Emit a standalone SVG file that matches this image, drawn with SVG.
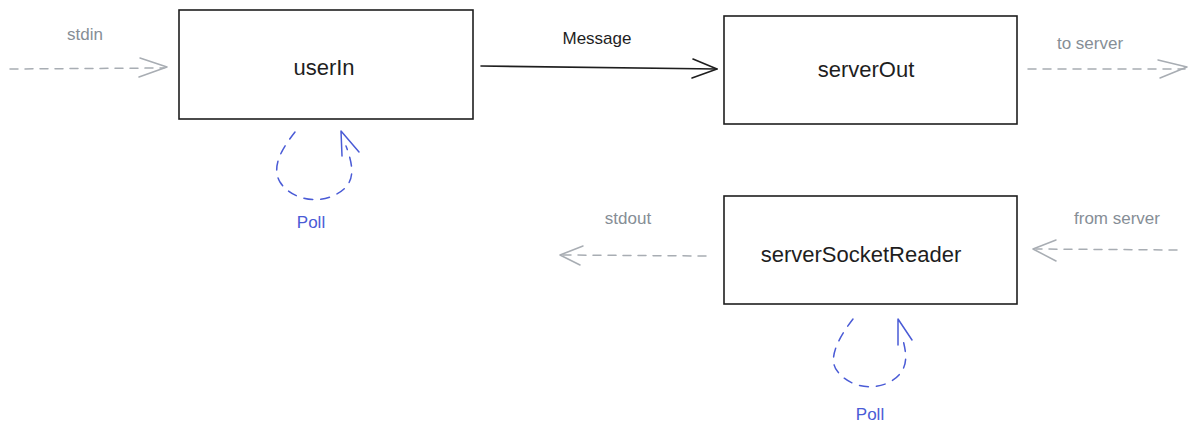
<svg xmlns="http://www.w3.org/2000/svg" width="1197" height="436" viewBox="0 0 1197 436">
<style>
.box{fill:#fff;stroke:#1e1e1e;stroke-width:1.6}
.lbl{font-family:"Liberation Sans",Arial,sans-serif;font-size:22px;fill:#1e1e1e;text-anchor:middle}
.note{font-family:"Liberation Sans",Arial,sans-serif;font-size:17px;fill:#868e96;text-anchor:middle}
.poll{font-family:"Liberation Sans",Arial,sans-serif;font-size:17px;fill:#4a5bd6;text-anchor:middle}
.gray{fill:none;stroke:#a8adb3;stroke-width:1.5;stroke-dasharray:8 7;stroke-linecap:round}
.grayhead{fill:none;stroke:#a8adb3;stroke-width:1.5;stroke-linecap:round;stroke-linejoin:round}
.blk{fill:none;stroke:#1e1e1e;stroke-width:1.6;stroke-linecap:round;stroke-linejoin:round}
.blue{fill:none;stroke:#4a5bd6;stroke-width:1.5;stroke-dasharray:9 8;stroke-linecap:round}
.bluehead{fill:none;stroke:#4a5bd6;stroke-width:1.5;stroke-linecap:round;stroke-linejoin:round}
</style>
<rect width="1197" height="436" fill="#fff"/>
<g id="userIn">
<rect class="box" x="179" y="10" width="294" height="109"/>
<text class="lbl" x="324" y="75">userIn</text>
</g>
<g id="serverOut">
<rect class="box" x="724" y="16" width="293" height="108"/>
<text class="lbl" x="866" y="77">serverOut</text>
</g>
<g id="serverSocketReader">
<rect class="box" x="724" y="196" width="293" height="108"/>
<text class="lbl" x="861" y="262">serverSocketReader</text>
</g>
<g id="connectors">
<path class="gray" d="M10 69 L164 68"/>
<path class="grayhead" d="M140 58 L167 67 L139 77"/>
<text class="note" x="85" y="40">stdin</text>
<path class="blk" d="M481 66 L717 69"/>
<path class="blk" d="M693 59 L717 69 L692 78"/>
<text class="note" x="597" y="44" style="fill:#1e1e1e">Message</text>
<path class="gray" d="M1028 69 L1185 69"/>
<path class="grayhead" d="M1158 60 L1187 67 L1160 78"/>
<text class="note" x="1090" y="49">to server</text>
<path class="gray" d="M706 256 L563 255"/>
<path class="grayhead" d="M583 246 L560 255 L580 265"/>
<text class="note" x="628" y="224">stdout</text>
<path class="gray" d="M1177 250 L1036 249"/>
<path class="grayhead" d="M1056 240 L1033 249 L1056 261"/>
<text class="note" x="1117" y="224">from server</text>
<path class="blue" d="M295 132 C285 145 270 165 280 182 C290 198 315 205 335 195 C355 185 355 170 346 146"/>
<path class="bluehead" d="M359 152 L341 131 L342 156"/>
<text class="poll" x="311" y="228">Poll</text>
<path class="blue" d="M853 319 C843 332 825 358 838 372 C848 385 870 392 890 382 C910 370 907 355 902 336"/>
<path class="bluehead" d="M912 340 L898 319 L898 345"/>
<text class="poll" x="870" y="420">Poll</text>
</g>
</svg>
